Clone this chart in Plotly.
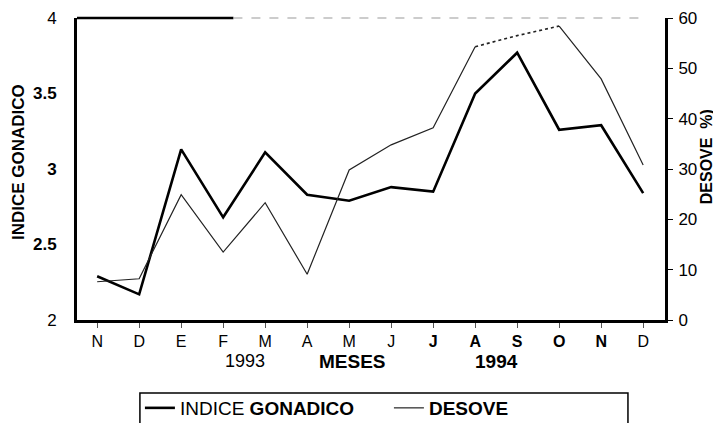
import plotly.graph_objects as go

months = ["N", "D", "E", "F", "M", "A", "M", "J", "J", "A", "S", "O", "N", "D"]
month_labels = ["N", "D", "E", "F", "M", "A", "M", "J", "<b>J</b>", "<b>A</b>", "<b>S</b>", "<b>O</b>", "<b>N</b>", "D"]
indice_gonadico = [2.29, 2.17, 3.13, 2.68, 3.11, 2.83, 2.79, 2.88, 2.85, 3.50, 3.77, 3.26, 3.29, 2.84]
desove = [7.6, 8.2, 24.9, 13.5, 23.3, 9.1, 29.8, 34.8, 38.2, 54.3, 56.5, 58.4, 47.9, 30.8]
dotted_idx = [9, 10, 11]  # Aug-Oct segment drawn dotted
left_ticks = [2, 2.5, 3, 3.5, 4]
left_ticktext = ["2", "<b>2.5</b>", "<b>3</b>", "<b>3.5</b>", "4"]
right_ticks = [0, 10, 20, 30, 40, 50, 60]

FONT = "Arial, Liberation Sans, sans-serif"
xs = list(range(len(months)))

# Solid part of DESOVE with a break for the dotted segment
desove_solid = [None if i == 10 else v for i, v in enumerate(desove)]
desove_dot_x = [xs[i] for i in dotted_idx]
desove_dot_y = [desove[i] for i in dotted_idx]

fig = go.Figure()
fig.add_trace(go.Scatter(
    x=xs, y=indice_gonadico, mode="lines", name="INDICE <b>GONADICO</b>",
    line=dict(color="black", width=2.6), yaxis="y",
))
fig.add_trace(go.Scatter(
    x=xs, y=desove_solid, mode="lines", name="<b>DESOVE</b>",
    line=dict(color="#222", width=1.2), yaxis="y2", connectgaps=False,
))
fig.add_trace(go.Scatter(
    x=desove_dot_x, y=desove_dot_y, mode="lines", showlegend=False,
    line=dict(color="#222", width=1.6, dash="dot"), yaxis="y2",
))

fig.update_layout(
    width=713, height=415,
    margin=dict(l=69, r=56, t=10, b=103, autoexpand=False),
    paper_bgcolor="white", plot_bgcolor="white",
    font=dict(family=FONT, color="black", size=16),
    xaxis=dict(
        range=[-0.48, 13.52], tickmode="array", tickvals=xs, ticktext=month_labels,
        showline=True, linecolor="black", linewidth=3, showgrid=False, zeroline=False,
        ticks="outside", ticklen=5, tickwidth=1, tickcolor="#555",
        tickfont=dict(size=16, family=FONT), fixedrange=True,
    ),
    yaxis=dict(
        range=[2, 4], tickmode="array", tickvals=left_ticks, ticktext=left_ticktext,
        showline=True, linecolor="black", linewidth=3, showgrid=False, zeroline=False,
        ticks="", ticklabelstandoff=14, tickfont=dict(size=17, family=FONT),
    ),
    yaxis2=dict(
        range=[0, 60], tickmode="array", tickvals=right_ticks, overlaying="y", side="right",
        showline=True, linecolor="black", linewidth=3, showgrid=False, zeroline=False,
        ticks="outside", ticklen=5, tickwidth=1, tickcolor="black",
        ticklabelstandoff=2, tickfont=dict(size=17, family=FONT),
    ),
    showlegend=True,
    legend=dict(
        orientation="h", x=0.107, xanchor="left", y=-0.2285, yanchor="top",
        borderwidth=0, bgcolor="rgba(0,0,0,0)",
        font=dict(size=19, family=FONT), entrywidth=204, entrywidthmode="pixels",
        tracegroupgap=0,
    ),
    shapes=[
        dict(type="line", xref="paper", yref="paper", x0=0, x1=0.266, y0=1, y1=1,
             line=dict(color="black", width=2.5)),
        dict(type="line", xref="paper", yref="paper", x0=0.266, x1=0.955, y0=1, y1=1,
             line=dict(color="#999", width=1.2, dash="dash")),
        dict(type="rect", xref="paper", yref="paper", x0=0.107, x1=0.937, y0=-0.2417, y1=-0.40,
             line=dict(color="black", width=1.5), fillcolor="rgba(0,0,0,0)"),
    ],
    annotations=[
        dict(text="<b>INDICE GONADICO</b>", xref="paper", yref="paper", x=-0.1003, y=0.523,
             textangle=-90, showarrow=False, font=dict(size=17, family=FONT),
             xanchor="center", yanchor="middle"),
        dict(text="<b>DESOVE  %)</b>", xref="paper", yref="paper", x=1.072, y=0.54,
             textangle=-90, showarrow=False, font=dict(size=16, family=FONT),
             xanchor="center", yanchor="middle"),
        dict(text="1993", xref="paper", yref="paper", x=0.2857, y=-0.136,
             showarrow=False, font=dict(size=18, family=FONT), xanchor="center", yanchor="middle"),
        dict(text="<b>MESES</b>", xref="paper", yref="paper", x=0.4677, y=-0.136,
             showarrow=False, font=dict(size=19, family=FONT), xanchor="center", yanchor="middle"),
        dict(text="<b>1994</b>", xref="paper", yref="paper", x=0.714, y=-0.136,
             showarrow=False, font=dict(size=19, family=FONT), xanchor="center", yanchor="middle"),
    ],
)

fig.write_html("out.html")
